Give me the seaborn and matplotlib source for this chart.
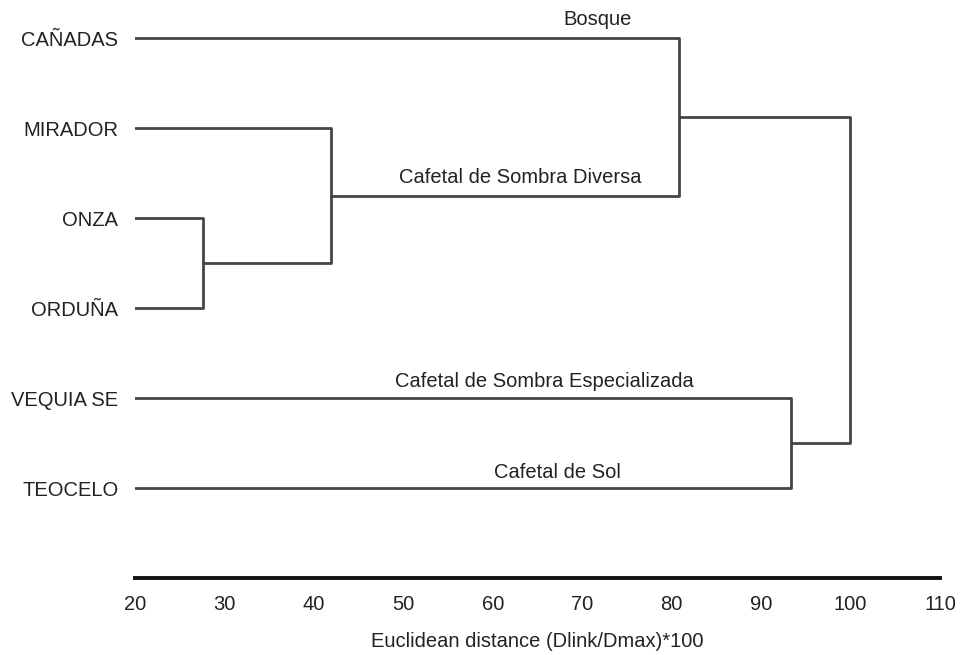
import matplotlib
matplotlib.use("Agg")
import matplotlib.pyplot as plt
import seaborn as sns
import pandas as pd

leaves = ["CAÑADAS", "MIRADOR", "ONZA", "ORDUÑA", "VEQUIA SE", "TEOCELO"]
# merges: (left cluster, right cluster, distance); clusters 0-5 are leaves, 6+ are merges
merge_left = [2, 1, 0, 4, 8]
merge_right = [3, 6, 7, 5, 9]
merge_height = [27.6, 41.9, 80.8, 93.3, 99.9]

group_labels = ["Bosque", "Cafetal de Sombra Diversa",
                "Cafetal de Sombra Especializada", "Cafetal de Sol"]
group_x = [71.7, 63.1, 65.8, 67.2]
group_y = [-0.21, 1.55, 3.82, 4.83]

xticks = [20, 30, 40, 50, 60, 70, 80, 90, 100, 110]
x_start = 20

sns.set_theme(style="white")
plt.rcParams["font.family"] = ["Liberation Sans", "DejaVu Sans"]

# build segments
pos = {i: float(i) for i in range(len(leaves))}
hgt = {i: float(x_start) for i in range(len(leaves))}
rows = []
seg = 0
for k, (a, b, h) in enumerate(zip(merge_left, merge_right, merge_height)):
    cid = len(leaves) + k
    pts = [(hgt[a], pos[a]), (h, pos[a]), (h, pos[b]), (hgt[b], pos[b])]
    for x, y in pts:
        rows.append({"x": x, "y": y, "seg": seg})
    seg += 1
    pos[cid] = (pos[a] + pos[b]) / 2
    hgt[cid] = h
df = pd.DataFrame(rows)

fig = plt.figure(figsize=(9.61, 6.55), dpi=100)
ax = fig.add_axes([135 / 961, 1 - 578 / 655, (940 - 135) / 961, (578 - 20) / 655])

sns.lineplot(data=df, x="x", y="y", units="seg", estimator=None, sort=False,
             color="#454545", linewidth=2.0, ax=ax)

for t, x, y in zip(group_labels, group_x, group_y):
    ax.text(x, y, t, ha="center", va="center", fontsize=14.5, color="#222222")

ax.set_xlim(20, 110)
ax.set_ylim(6, -0.2)
ax.set_xticks(xticks)
ax.set_xticklabels([str(v) for v in xticks])
ax.set_yticks(range(len(leaves)))
ax.set_yticklabels(leaves)
ax.tick_params(axis="both", length=0, labelsize=14.5, colors="#222222")
ax.tick_params(axis="y", pad=12)
ax.tick_params(axis="x", pad=12)
for s in ["top", "right", "left"]:
    ax.spines[s].set_visible(False)
ax.spines["bottom"].set_linewidth(2.8)
ax.spines["bottom"].set_color("#111111")
ax.set_ylabel("")
ax.set_xlabel("Euclidean distance (Dlink/Dmax)*100", fontsize=14.5,
              color="#222222", labelpad=13)
ax.grid(False)

fig.savefig("out.png", dpi=100)
